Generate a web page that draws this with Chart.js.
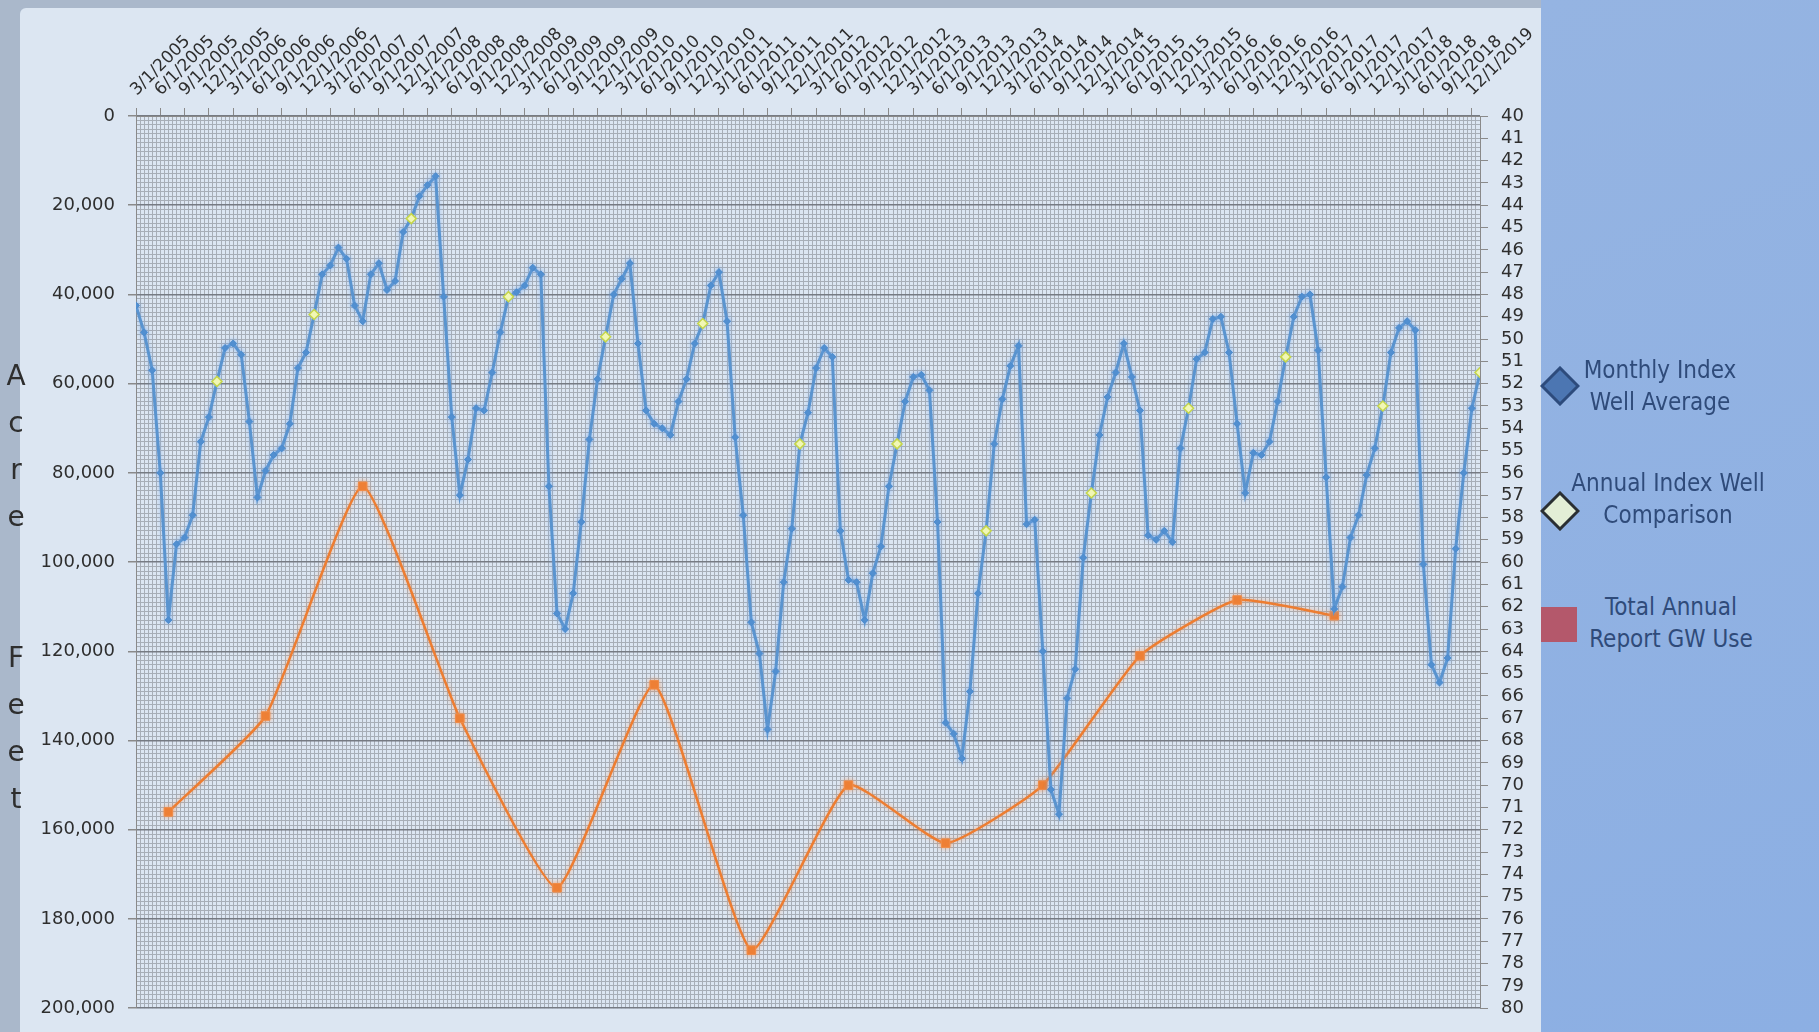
<!DOCTYPE html>
<html>
<head>
<meta charset="utf-8">
<script src="https://cdn.jsdelivr.net/npm/chart.js@4.4.1/dist/chart.umd.min.js"></script>
<style>
  body { margin: 0; width: 1819px; height: 1032px; position: relative; overflow: hidden; background: #aab8cb; font-family: "DejaVu Sans", sans-serif; }
  #panel { position: absolute; left: 20px; top: 8px; width: 1521px; height: 1024px; background: #dce6f2; border-top-left-radius: 6px; }
  #side { position: absolute; left: 1541px; top: 0; width: 278px; height: 1032px; background: linear-gradient(160deg, #95b4e2, #8cafe3); }
  #chart { position: absolute; left: 0; top: 0; }
  #yname { position: absolute; left: 1px; top: 352px; width: 30px; text-align: center; font: 28px "DejaVu Sans", sans-serif; color: #2e2e2e; line-height: 47px; }
  .lg { position: absolute; color: #2f4b7a; font: 24px "Liberation Sans Narrow", "DejaVu Sans Condensed", sans-serif; text-align: center; line-height: 32px; }
  .ico { position: absolute; }
</style>
</head>
<body>
<div id="panel"></div>
<div id="side"></div>
<canvas id="chart" width="1541" height="1032"></canvas>
<div id="yname">A<br>c<br>r<br>e<br><br><br>F<br>e<br>e<br>t</div>

<svg class="ico" style="left:1540px; top:366px" width="40" height="40"><polygon points="2,20 20,2 38,20 20,38" fill="#4c76b2" stroke="#2d4b7c" stroke-width="3"/></svg>
<div class="lg" style="left:1580px; top:354px; width:160px">Monthly Index<br>Well Average</div>

<svg class="ico" style="left:1540px; top:491px" width="40" height="40"><polygon points="2,20 20,2 38,20 20,38" fill="#e3eed6" stroke="#2a2f33" stroke-width="3"/></svg>
<div class="lg" style="left:1570px; top:467px; width:196px">Annual Index Well<br>Comparison</div>

<svg class="ico" style="left:1541px; top:607px" width="36" height="35"><rect x="0" y="0" width="36" height="35" fill="#b4586b"/></svg>
<div class="lg" style="left:1586px; top:591px; width:170px">Total Annual<br>Report GW Use</div>

<script>
// monthly index well average (ft), one value per month starting 3/1/2005
var wellAvg = [
  48.5, 49.7, 51.4, 56.0, 62.6, 59.2, 58.9, 57.9, 54.6, 53.5,
  51.9, 50.4, 50.2, 50.7, 53.7, 57.1, 55.9, 55.2, 54.9, 53.8,
  51.3, 50.6, 48.9, 47.1, 46.7, 45.9, 46.4, 48.5, 49.2, 47.1,
  46.6, 47.8, 47.4, 45.2, 44.6, 43.6, 43.1, 42.7, 48.1, 53.5,
  57.0, 55.4, 53.1, 53.2, 51.5, 49.7, 48.1, 47.9, 47.6, 46.8,
  47.1, 56.6, 62.3, 63.0, 61.4, 58.2, 54.5, 51.8, 49.9, 48.0,
  47.3, 46.6, 50.2, 53.2, 53.8, 54.0, 54.3, 52.8, 51.8, 50.2,
  49.3, 47.6, 47.0, 49.2, 54.4, 57.9, 62.7, 64.1, 67.5, 64.9,
  60.9, 58.5, 54.7, 53.3, 51.3, 50.4, 50.8, 58.6, 60.8, 60.9,
  62.6, 60.5, 59.3, 56.6, 54.7, 52.8, 51.7, 51.6, 52.3, 58.2,
  67.2, 67.7, 68.8, 65.8, 61.4, 58.6, 54.7, 52.7, 51.2, 50.3,
  58.3, 58.1, 64.0, 70.2, 71.3, 66.1, 64.8, 59.8, 56.9, 54.3,
  52.6, 51.5, 50.2, 51.7, 53.2, 58.8, 59.0, 58.6, 59.1, 54.9,
  53.1, 50.9, 50.6, 49.1, 49.0, 50.6, 53.8, 56.9, 55.1, 55.2,
  54.6, 52.8, 50.8, 49.0, 48.1, 48.0, 50.5, 56.2, 62.1, 61.1,
  58.9, 57.9, 56.1, 54.9, 53.0, 50.6, 49.5, 49.2, 49.6, 60.1,
  64.6, 65.4, 64.3, 59.4, 56.0, 53.1, 51.5
];

var compareDates = ["1/1/2006", "1/1/2007", "1/1/2008", "1/1/2009", "1/1/2010", "1/1/2011", "1/1/2012",
                    "1/1/2013", "12/1/2013", "1/1/2015", "1/1/2016", "1/1/2017", "1/1/2018", "1/1/2019"];
var compareValues = [51.9, 48.9, 44.6, 48.1, 49.9, 49.3, 54.7, 54.7, 58.6, 56.9, 53.1, 50.8, 53.0, 51.5];

var gwUseDates = ["7/1/2005", "7/1/2006", "7/1/2007", "7/1/2008", "7/1/2009", "7/1/2010", "7/1/2011",
                  "7/1/2012", "7/1/2013", "7/1/2014", "7/1/2015", "7/1/2016", "7/1/2017"];
var gwUseValues = [156000, 134500, 83000, 135000, 173000, 127500, 187000, 150000, 163000, 150000, 121000, 108500, 112000];

var tickLabels = [
  "3/1/2005", "6/1/2005", "9/1/2005", "12/1/2005", "3/1/2006", "6/1/2006", "9/1/2006", "12/1/2006",
  "3/1/2007", "6/1/2007", "9/1/2007", "12/1/2007", "3/1/2008", "6/1/2008", "9/1/2008", "12/1/2008",
  "3/1/2009", "6/1/2009", "9/1/2009", "12/1/2009", "3/1/2010", "6/1/2010", "9/1/2010", "12/1/2010",
  "3/1/2011", "6/1/2011", "9/1/2011", "12/1/2011", "3/1/2012", "6/1/2012", "9/1/2012", "12/1/2012",
  "3/1/2013", "6/1/2013", "9/1/2013", "12/1/2013", "3/1/2014", "6/1/2014", "9/1/2014", "12/1/2014",
  "3/1/2015", "6/1/2015", "9/1/2015", "12/1/2015", "3/1/2016", "6/1/2016", "9/1/2016", "12/1/2016",
  "3/1/2017", "6/1/2017", "9/1/2017", "12/1/2017", "3/1/2018", "6/1/2018", "9/1/2018", "12/1/2019"
];

// months since 3/1/2005
function monthIndex(s) {
  var p = s.split("/");
  return (Number(p[2]) - 2005) * 12 + (Number(p[0]) - 3);
}

var wellPts = wellAvg.map(function (v, i) { return { x: i, y: v }; });
var comparePts = compareDates.map(function (d, i) { return { x: monthIndex(d), y: compareValues[i] }; });
var gwPts = gwUseDates.map(function (d, i) { return { x: monthIndex(d), y: gwUseValues[i] }; });

var glowColors = ["rgba(0,0,0,0)", "rgba(120,170,235,0.7)", "rgba(245,150,90,0.7)"];

var glow = {
  id: "glow",
  beforeDatasetDraw: function (chart, args) {
    chart.ctx.save();
    chart.ctx.shadowColor = glowColors[args.index];
    chart.ctx.shadowBlur = 5;
  },
  afterDatasetDraw: function (chart) {
    chart.ctx.restore();
  }
};

var tickFont = { family: "DejaVu Sans", size: 18 };
var minorColor = "#a7aeb7";

var chart = new Chart(document.getElementById("chart"), {
  type: "line",
  data: {
    datasets: [
      {
        label: "Annual Index Well Comparison",
        data: comparePts,
        yAxisID: "y2",
        showLine: false,
        pointStyle: "rectRot",
        pointRadius: 5,
        pointBackgroundColor: "#f1f7b6",
        pointBorderColor: "#c6d64a",
        pointBorderWidth: 1.5
      },
      {
        label: "Monthly Index Well Average",
        data: wellPts,
        yAxisID: "y2",
        borderColor: "#5a94cf",
        borderWidth: 3,
        tension: 0,
        pointStyle: "rectRot",
        pointRadius: 3.5,
        pointBackgroundColor: "#4d8ccd",
        pointBorderColor: "#4d8ccd",
        pointBorderWidth: 1
      },
      {
        label: "Total Annual Report GW Use",
        data: gwPts,
        yAxisID: "y",
        borderColor: "#ed7d31",
        borderWidth: 2.5,
        tension: 0.15,
        pointStyle: "rect",
        pointRadius: 6,
        pointBackgroundColor: "#ed7d31",
        pointBorderColor: "#f08c48",
        pointBorderWidth: 1
      }
    ]
  },
  options: {
    responsive: false,
    animation: false,
    devicePixelRatio: 1,
    layout: { padding: { left: 0, right: 0, top: 0, bottom: 16 } },
    plugins: { legend: { display: false }, tooltip: { enabled: false } },
    scales: {
      x: {
        type: "linear",
        position: "top",
        min: 0,
        max: 166,
        afterFit: function (s) { s.height = 116; },
        ticks: {
          stepSize: 0.5,
          autoSkip: false,
          minRotation: 45,
          maxRotation: 45,
          padding: 8,
          labelOffset: 12,
          color: "#2e2e2e",
          font: { family: "DejaVu Sans", size: 17 },
          callback: function (v) { return v % 3 === 0 ? tickLabels[v / 3] : ""; }
        },
        grid: {
          color: minorColor,
          lineWidth: 1,
          tickLength: 8,
          tickColor: function (c) { return c.tick && c.tick.value % 3 === 0 ? "#8a8a8a" : "rgba(0,0,0,0)"; }
        },
        border: { color: "#8a8a8a" }
      },
      y: {
        position: "left",
        reverse: true,
        min: 0,
        max: 200000,
        afterFit: function (s) { s.width = 136; },
        ticks: {
          stepSize: 1000,
          autoSkip: false,
          padding: 13,
          color: "#2e2e2e",
          font: tickFont,
          callback: function (v) { return v % 20000 === 0 ? v.toLocaleString("en-US") : ""; }
        },
        grid: {
          color: function (c) { return c.tick && c.tick.value % 20000 === 0 ? "#767b83" : minorColor; },
          lineWidth: function (c) { return c.tick && c.tick.value % 20000 === 0 ? 1.5 : 1; },
          tickLength: 8,
          tickColor: function (c) { return c.tick && c.tick.value % 20000 === 0 ? "#8a8a8a" : "rgba(0,0,0,0)"; }
        },
        border: { color: "#8a8a8a" }
      },
      y2: {
        position: "right",
        reverse: true,
        min: 40,
        max: 80,
        afterFit: function (s) { s.width = 61; },
        ticks: {
          stepSize: 1,
          autoSkip: false,
          padding: 13,
          color: "#2e2e2e",
          font: tickFont
        },
        grid: { drawOnChartArea: false, tickLength: 8, color: "#8a8a8a" },
        border: { color: "#8a8a8a" }
      }
    }
  },
  plugins: [glow]
});
</script>
</body>
</html>
